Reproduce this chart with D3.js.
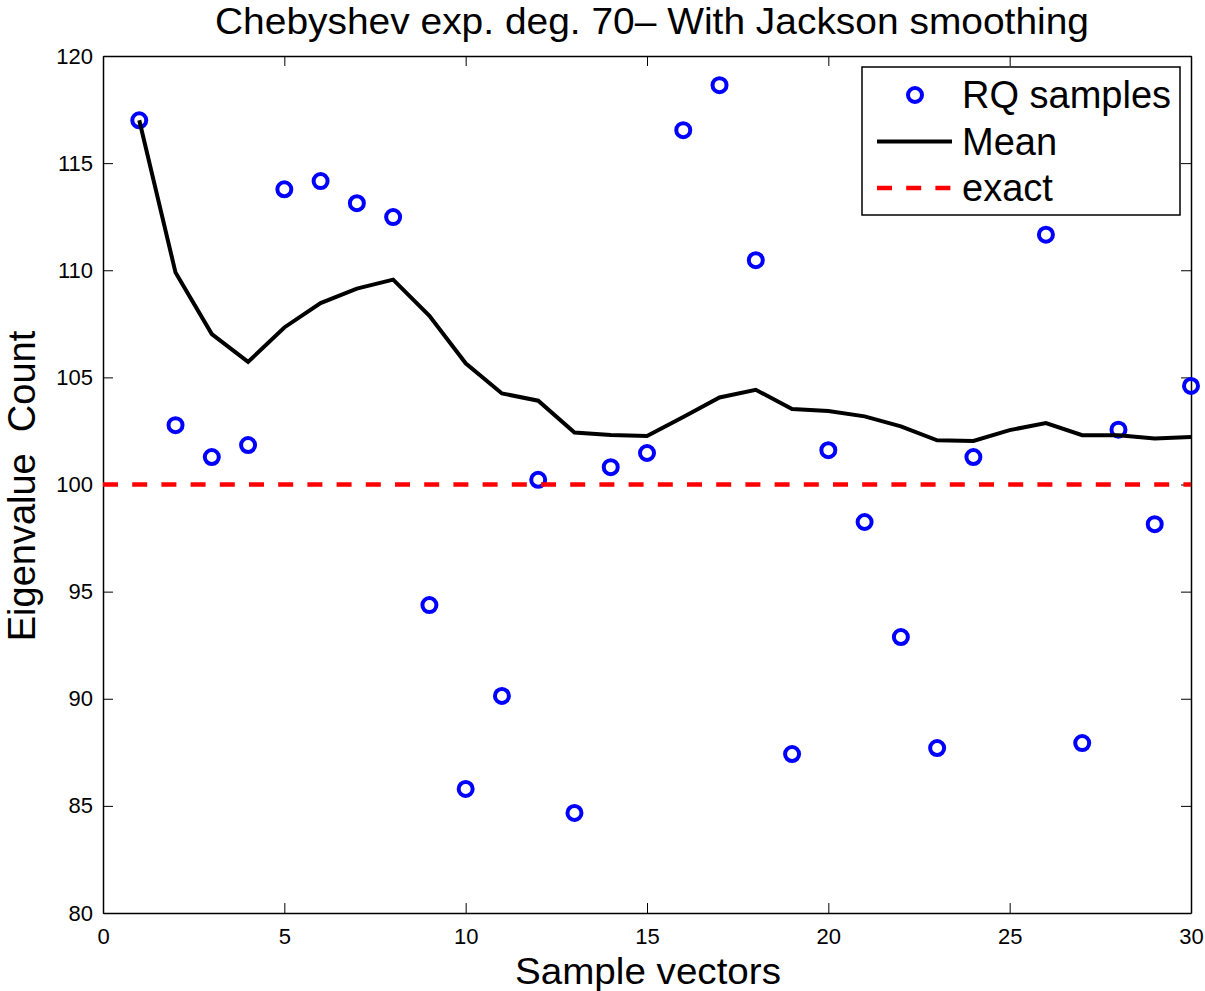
<!DOCTYPE html>
<html>
<head>
<meta charset="utf-8">
<script src="https://cdn.jsdelivr.net/npm/d3@7"></script>
<style>
  html, body { margin: 0; padding: 0; background: #fff; }
  svg { display: block; font-family: "Liberation Sans", Arial, Helvetica, sans-serif; }
</style>
</head>
<body>
<svg id="chart" width="1205" height="991"></svg>
<script>
// ---- data ----
const sampleIdx = [1,2,3,4,5,6,7,8,9,10,11,12,13,14,15,16,17,18,19,20,21,22,23,24,25,26,27,28,29,30];
const rqSamples = [117.0, 102.77, 101.28, 101.84, 113.78, 114.16, 113.13, 112.48, 94.37, 85.79,
                   90.13, 100.22, 84.67, 100.81, 101.47, 116.54, 118.64, 110.47, 87.42, 101.6,
                   98.25, 92.88, 87.70, 101.28, 114.8, 111.66, 87.93, 102.56, 98.15, 104.6];
const meanValues = [117.0, 109.89, 107.02, 105.72, 107.33, 108.47, 109.14, 109.56, 107.87, 105.66,
                    104.25, 103.91, 102.43, 102.31, 102.26, 103.15, 104.06, 104.42, 103.52, 103.43,
                    103.18, 102.71, 102.06, 102.03, 102.54, 102.87, 102.3, 102.3, 102.15, 102.22];
const exactValue = [100];
const xTicks = [0, 5, 10, 15, 20, 25, 30];
const yTicks = [80, 85, 90, 95, 100, 105, 110, 115, 120];
const legendLabels = ["RQ samples", "Mean", "exact"];
const titleText = "Chebyshev exp. deg. 70\u2013 With Jackson smoothing";
const xLabelText = "Sample vectors";
const yLabelText = "Eigenvalue\u00a0\u00a0Count";

// ---- layout ----
const svg = d3.select("#chart");
const M = { left: 103, top: 56, right: 1191, bottom: 913 };
const x = d3.scaleLinear().domain([0, 30]).range([M.left, M.right]);
const y = d3.scaleLinear().domain([80, 120]).range([M.bottom, M.top]);

svg.append("rect").attr("width", 1205).attr("height", 991).attr("fill", "#fff");

// axes (ticks inward, on all four sides)
const axisStyle = g => {
  g.selectAll("path.domain").attr("stroke", "#000").attr("stroke-width", 1.5);
  g.selectAll(".tick line").attr("stroke", "#000").attr("stroke-width", 1);
  g.selectAll(".tick text").attr("fill", "#000").style("font-size", "22px")
    .style("font-family", "'Liberation Sans', Arial, Helvetica, sans-serif");
};
svg.append("g").attr("transform", `translate(0,${M.bottom})`)
  .call(d3.axisBottom(x).tickValues(xTicks).tickSize(-10).tickSizeOuter(0).tickPadding(15).tickFormat(d3.format("d")))
  .call(axisStyle);
svg.append("g").attr("transform", `translate(0,${M.top})`)
  .call(d3.axisTop(x).tickValues(xTicks).tickSize(-10).tickSizeOuter(0).tickFormat(""))
  .call(axisStyle);
svg.append("g").attr("transform", `translate(${M.left},0)`)
  .call(d3.axisLeft(y).tickValues(yTicks).tickSize(-10).tickSizeOuter(0).tickPadding(10).tickFormat(d3.format("d")))
  .call(axisStyle);
svg.append("g").attr("transform", `translate(${M.right},0)`)
  .call(d3.axisRight(y).tickValues(yTicks).tickSize(-10).tickSizeOuter(0).tickFormat(""))
  .call(axisStyle);

// RQ samples
svg.append("g").selectAll("circle").data(sampleIdx).join("circle")
  .attr("cx", (d) => x(d))
  .attr("cy", (d, i) => y(rqSamples[i]))
  .attr("r", 7)
  .attr("fill", "none")
  .attr("stroke", "#0000ff")
  .attr("stroke-width", 4);

// Mean line
const line = d3.line().x(d => x(d[0])).y(d => y(d[1]));
svg.append("path")
  .datum(sampleIdx.map((d, i) => [d, meanValues[i]]))
  .attr("d", line)
  .attr("fill", "none")
  .attr("stroke", "#000")
  .attr("stroke-width", 4)
  .attr("stroke-linejoin", "miter");

// exact
svg.append("g").selectAll("line").data(exactValue).join("line")
  .attr("x1", x(0)).attr("x2", x(30))
  .attr("y1", d => y(d)).attr("y2", d => y(d))
  .attr("stroke", "#ff0000")
  .attr("stroke-width", 4.5)
  .attr("stroke-dasharray", "15,14.2");

// legend
const lg = svg.append("g");
lg.append("rect").attr("x", 862).attr("y", 67).attr("width", 318).attr("height", 148)
  .attr("fill", "#fff").attr("stroke", "#000").attr("stroke-width", 1.5);
const rowY = [95, 141.5, 188];
lg.append("circle").attr("cx", 915).attr("cy", rowY[0]).attr("r", 7)
  .attr("fill", "none").attr("stroke", "#0000ff").attr("stroke-width", 4);
lg.append("line").attr("x1", 877).attr("x2", 952).attr("y1", rowY[1]).attr("y2", rowY[1])
  .attr("stroke", "#000").attr("stroke-width", 4);
lg.append("line").attr("x1", 877).attr("x2", 952).attr("y1", rowY[2]).attr("y2", rowY[2])
  .attr("stroke", "#ff0000").attr("stroke-width", 4.5).attr("stroke-dasharray", "15,14.2");
lg.selectAll("text").data(legendLabels).join("text")
  .attr("x", 962)
  .attr("y", (d, i) => rowY[i] + 13)
  .style("font-size", "38px")
  .attr("fill", "#000")
  .text(d => d);

// title & labels
svg.append("text").attr("x", 652).attr("y", 34).attr("text-anchor", "middle")
  .style("font-size", "37px").attr("textLength", 874).attr("lengthAdjust", "spacingAndGlyphs")
  .text(titleText);
svg.append("text").attr("x", 648).attr("y", 984).attr("text-anchor", "middle")
  .style("font-size", "37px").attr("textLength", 266).attr("lengthAdjust", "spacingAndGlyphs")
  .text(xLabelText);
svg.append("text").attr("transform", "translate(35,486) rotate(-90)").attr("text-anchor", "middle")
  .style("font-size", "38px").text(yLabelText);
</script>
</body>
</html>
